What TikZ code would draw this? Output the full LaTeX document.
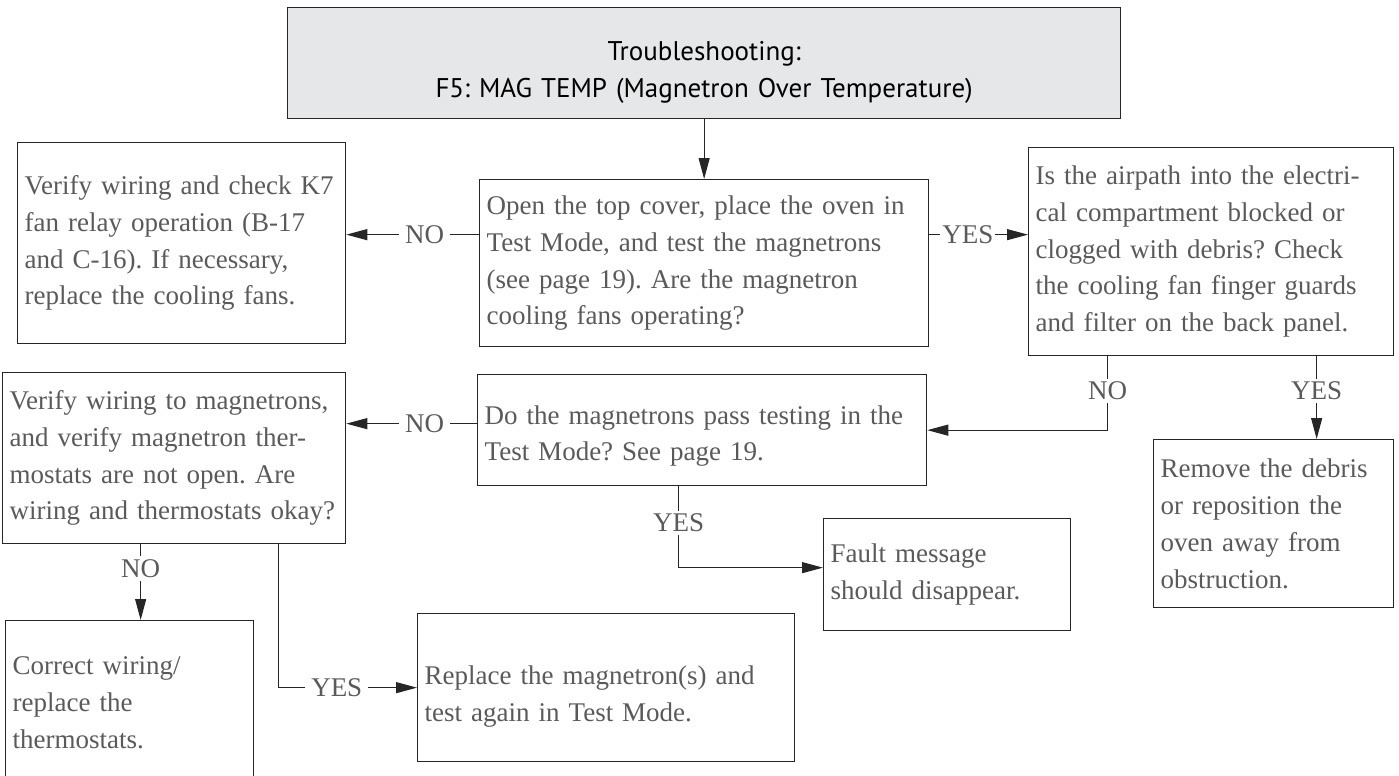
\documentclass[tikz,border=0pt]{standalone}
\usepackage{fontspec}
\usetikzlibrary{arrows.meta}
\newfontfamily\bodyfont{Liberation Serif}
\newfontfamily\headfont{PT Sans}
\definecolor{textgray}{HTML}{5A5A5A}
\definecolor{headgray}{HTML}{E6E7E8}
\definecolor{linegray}{HTML}{262626}
% taller first line, pushes the text of a box down a little
\newcommand{\dropline}[1]{\rule{0pt}{#1}}
\frenchspacing

\begin{document}
\begin{tikzpicture}[
    x=0.5pt, y=-0.5pt,
    box/.style={draw=linegray, line width=0.65pt, anchor=north west, align=left,
                text=textgray, inner xsep=3.5pt, inner ysep=0pt,
                font=\bodyfont\fontsize{13.5}{18.4}\selectfont},
    head/.style={box, fill=headgray, text=black, align=center,
                 font=\headfont\fontsize{13.5}{18.5}\selectfont},
    arr/.style={linegray, line width=0.55pt, -{Triangle[length=10.5pt,width=5.5pt]}},
    lbl/.style={fill=white, text=textgray, inner xsep=3pt, inner ysep=1.5pt,
                font=\bodyfont\fontsize{13.5}{18.4}\selectfont}
]
\useasboundingbox (0,0) rectangle (1399,776);
\clip (0,0) rectangle (1399,776);

% ---------- title ----------
\node[head, text width=409.5pt, minimum height=55.5pt] (top) at (287,7)
  {\dropline{18.7pt}Troubleshooting:\\F5: MAG TEMP (Magnetron Over Temperature)};

% ---------- first row ----------
\node[box, text width=217.5pt, minimum height=83.5pt] (open) at (479,179)
  {Open the top cover, place the oven in\\Test Mode, and test the magnetrons\\(see page 19). Are the magnetron\\cooling fans operating?};
\node[box, text width=157pt, minimum height=100.5pt] (fans) at (17,142)
  {Verify wiring and check K7\\fan relay operation (B-17\\and C-16). If necessary,\\replace the cooling fans.};
\node[box, text width=175.5pt, minimum height=104pt] (airpath) at (1028,147)
  {Is the airpath into the electri-\\cal compartment blocked or\\clogged with debris? Check\\the cooling fan finger guards\\and filter on the back panel.};

% ---------- second row ----------
\node[box, text width=217.5pt, minimum height=55.5pt] (passtest) at (477,374)
  {\dropline{15.2pt}Do the magnetrons pass testing in the\\Test Mode? See page 19.};
\node[box, text width=164.5pt, minimum height=85.5pt] (wiring) at (2,372)
  {Verify wiring to magnetrons,\\and verify magnetron ther-\\mostats are not open. Are\\wiring and thermostats okay?};
\node[box, text width=113pt, minimum height=84pt] (debris) at (1153,439)
  {Remove the debris\\or reposition the\\oven away from\\obstruction.};
\node[box, text width=116.5pt, minimum height=56pt] (fault) at (823,518)
  {Fault message\\should disappear.};

% ---------- last row ----------
\node[box, text width=117pt, minimum height=82pt] (thermo) at (5,620)
  {Correct wiring/\\replace the\\thermostats.};
\node[box, text width=181.5pt, minimum height=74pt] (replace) at (417,613)
  {\dropline{18.4pt}Replace the magnetron(s) and\\test again in Test Mode.};

% ---------- connectors ----------
\draw[arr] (top.south) -- (open.north);
\draw[arr] ([yshift=14.25pt]open.west) -- node[lbl, pos=0.41]{NO}
  ([yshift=14.25pt]open.west -| fans.east);
\draw[arr] ([yshift=14.25pt]open.east) -- node[lbl, pos=0.39, inner xsep=1pt]{YES}
  ([yshift=14.25pt]open.east -| airpath.west);
\draw[arr] ([xshift=-51.75pt]airpath.south) |- node[lbl, pos=0.235]{NO} (passtest.east);
\draw[arr] ([xshift=52.75pt]airpath.south) -- node[lbl, pos=0.42]{YES}
  ([xshift=52.75pt]airpath.south |- debris.north);
\draw[arr] ([xshift=-11.75pt]passtest.south) |- node[lbl, pos=0.225]{YES}
  ([yshift=3.5pt]fault.west);
\draw[arr] ([yshift=3.25pt]passtest.west) -- node[lbl, pos=0.4]{NO}
  ([yshift=3.25pt]passtest.west -| wiring.east);
\draw[arr] ([xshift=-16.75pt]wiring.south) -- node[lbl, pos=0.32]{NO}
  ([xshift=-16.75pt]wiring.south |- thermo.north);
\draw[arr] ([xshift=52.25pt]wiring.south) |- node[lbl, pos=0.71]{YES} (replace.west);

\end{tikzpicture}
\end{document}
